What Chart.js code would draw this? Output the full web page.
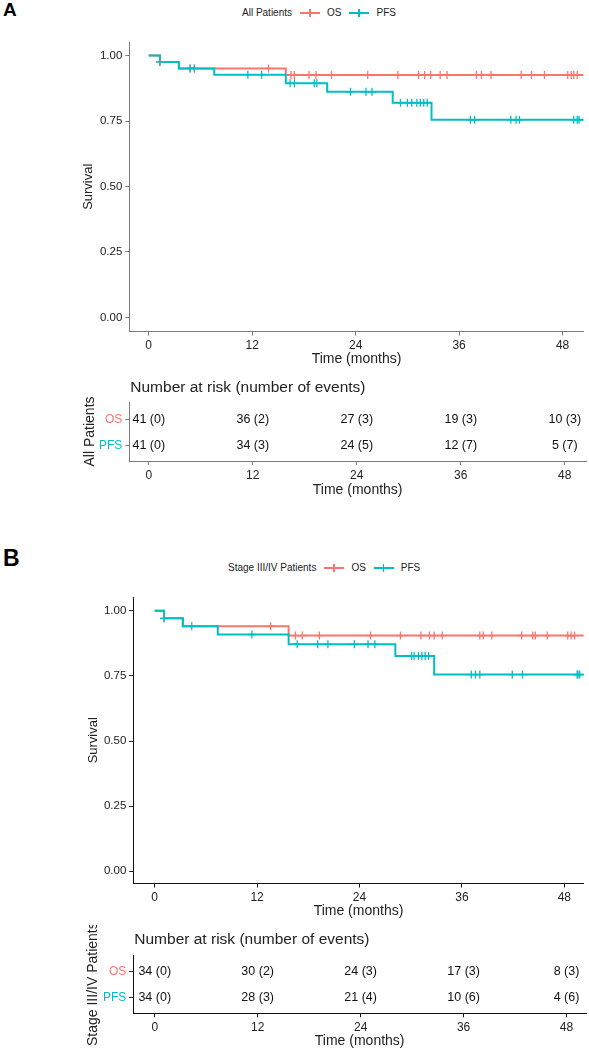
<!DOCTYPE html>
<html>
<head>
<meta charset="utf-8">
<script src="https://cdn.jsdelivr.net/npm/chart.js@4.4.0/dist/chart.umd.min.js"></script>
<style>
  html, body { margin: 0; padding: 0; background: #fff; overflow: hidden; }
  body { width: 589px; height: 1050px; position: relative; font-family: "Liberation Sans", Arial, sans-serif; }
  canvas { position: absolute; left: 0; }
  .panel { position: absolute; left: 3px; font-weight: bold; color: #000; line-height: 1; }
  .legend { position: absolute; display: flex; align-items: center; font-size: 10px; color: #222; white-space: nowrap; height: 10px; line-height: 10px; }
  .key { position: relative; width: 20px; height: 10px; margin: 0 7px 0 8px; }
  .key::before { content: ''; position: absolute; left: 0; right: 0; top: 4px; height: 2px; background: var(--c); }
  .key::after { content: ''; position: absolute; left: 9px; width: 1.5px; top: 1px; height: 8px; background: var(--c); }
</style>
</head>
<body>
<div class="panel" style="top:0px;font-size:19px">A</div>
<div class="legend" style="left:242px;top:8px">All Patients<span class="key" style="--c:#F8766D"></span>OS<span class="key" style="--c:#00BFC4"></span>PFS</div>
<canvas id="survA" width="589" height="344" style="top:28px"></canvas>
<canvas id="riskA" width="589" height="131" style="top:372px"></canvas>

<div class="panel" style="top:547px;font-size:23px">B</div>
<div class="legend" style="left:228px;top:563px">Stage III/IV Patients<span class="key" style="--c:#F8766D"></span>OS<span class="key" style="--c:#00BFC4"></span>PFS</div>
<canvas id="survB" width="589" height="344" style="top:580px"></canvas>
<canvas id="riskB" width="589" height="129" style="top:925px"></canvas>

<script>
// kleuren zoals ggplot standaard
const RED = '#F8766D';
const TEAL = '#00BFC4';
const TEXT = '#222';

const xTicks = [0, 12, 24, 36, 48];
const yTicks = [0, 0.25, 0.5, 0.75, 1];
const riskRows = ['OS', 'PFS'];

// --- Paneel A: alle patiënten ---
const osTimesA = [0, 1.3, 3.5, 15.9, 50.45];
const osSurvA = [1, 0.976, 0.951, 0.926, 0.926];
const pfsTimesA = [0, 1.3, 3.5, 7.6, 15.9, 20.7, 28.3, 32.8, 50.45];
const pfsSurvA = [1, 0.976, 0.951, 0.927, 0.894, 0.862, 0.820, 0.755, 0.755];
const osCensorA = [1.3, 4.8, 5.3, 13.9, 16.5, 16.9, 18.6, 19.4, 21.2, 25.4, 28.9, 31.3, 32.0, 32.7,
  33.8, 34.6, 38.0, 38.6, 39.7, 43.2, 44.4, 45.9, 48.6, 49.0, 49.3, 49.7];
const pfsCensorA = [1.3, 4.8, 5.3, 11.5, 13.1, 16.4, 16.9, 19.2, 19.5, 23.4, 25.2, 25.9, 29.2, 30.0,
  30.5, 31.1, 31.5, 31.9, 32.3, 37.3, 37.8, 42.0, 42.6, 43.0, 49.3, 49.7, 49.9];
const osAtRiskA = [41, 36, 27, 19, 10];
const osEventsA = [0, 2, 3, 3, 3];
const pfsAtRiskA = [41, 34, 24, 12, 5];
const pfsEventsA = [0, 3, 5, 7, 7];

// --- Paneel B: stadium III/IV ---
const osTimesB = [0, 1.1, 3.3, 15.7, 50.5];
const osSurvB = [1, 0.971, 0.941, 0.905, 0.905];
const pfsTimesB = [0, 1.1, 3.3, 7.4, 15.7, 28.2, 32.75, 50.5];
const pfsSurvB = [1, 0.971, 0.941, 0.909, 0.872, 0.826, 0.755, 0.755];
const osCensorB = [1.1, 13.6, 16.5, 17.3, 19.3, 25.3, 28.8, 31.2, 32.2, 32.75, 33.7, 38.1, 38.5, 39.5,
  43.0, 44.3, 44.6, 46.0, 48.4, 48.8, 49.2];
const pfsCensorB = [1.1, 4.35, 11.4, 16.7, 19.1, 20.3, 23.4, 25.0, 25.8, 30.1, 30.4, 30.9, 31.3, 31.7,
  32.1, 37.1, 37.6, 38.1, 41.9, 43.1, 49.5, 49.6, 49.8];
const osAtRiskB = [34, 30, 24, 17, 8];
const osEventsB = [0, 2, 3, 3, 3];
const pfsAtRiskB = [34, 28, 21, 10, 4];
const pfsEventsB = [0, 3, 4, 6, 6];

// hulpfuncties
function stepPoints(times, surv) {
    return times.map((t, i) => ({ x: t, y: surv[i] }));
}

function survAt(times, surv, t) {
    let s = surv[0];
    for (let i = 0; i < times.length; i++) {
        if (times[i] <= t) s = surv[i];
    }
    return s;
}

function censorPoints(times, surv, cens) {
    return cens.map(t => ({ x: t, y: survAt(times, surv, t) }));
}

function axisStyle(color) {
    return {
        grid: { drawOnChartArea: false, drawTicks: true, tickLength: 4, color: color },
        border: { display: true, color: color, width: 1 }
    };
}

// Kaplan-Meier curve
function survivalChart(id, p) {
    new Chart(document.getElementById(id), {
        type: 'line',
        data: {
            datasets: [
                { label: 'PFS censor', data: censorPoints(p.pfsT, p.pfsS, p.pfsC), showLine: false,
                  pointStyle: 'cross', pointRadius: 4, pointBorderColor: TEAL, pointBorderWidth: 1.3, order: 0 },
                { label: 'OS censor', data: censorPoints(p.osT, p.osS, p.osC), showLine: false,
                  pointStyle: 'cross', pointRadius: 4, pointBorderColor: RED, pointBorderWidth: 1.3, order: 1 },
                { label: 'PFS', data: stepPoints(p.pfsT, p.pfsS), stepped: true, borderColor: TEAL,
                  borderWidth: 2, pointRadius: 0, order: 2 },
                { label: 'OS', data: stepPoints(p.osT, p.osS), stepped: true, borderColor: RED,
                  borderWidth: 2, pointRadius: 0, order: 3 }
            ]
        },
        options: {
            responsive: false,
            animation: false,
            devicePixelRatio: 1,
            layout: { padding: { left: p.padLeft, top: p.padTop, right: 3, bottom: 0 } },
            plugins: { legend: { display: false }, tooltip: { enabled: false } },
            scales: {
                x: {
                    type: 'linear', min: p.xMin, max: p.xMax,
                    afterBuildTicks: s => { s.ticks = xTicks.map(v => ({ value: v })); },
                    afterFit: s => { s.height = p.xHeight; },
                    ...axisStyle(p.axis),
                    ticks: { autoSkip: false, maxRotation: 0, padding: 3, color: TEXT, font: { size: 12 } },
                    title: { display: true, text: 'Time (months)', color: TEXT, font: { size: 14 }, padding: { top: 4, bottom: 4 } }
                },
                y: {
                    type: 'linear', min: p.yMin, max: p.yMax,
                    afterBuildTicks: s => { s.ticks = yTicks.map(v => ({ value: v })); },
                    afterFit: s => { s.width = p.yWidth; },
                    ...axisStyle(p.axis),
                    ticks: { padding: 3, color: TEXT, font: { size: 11.5 }, callback: v => Number(v).toFixed(2) },
                    title: { display: true, text: 'Survival', color: TEXT, font: { size: 13 }, padding: { top: 4, bottom: 4 } }
                }
            }
        }
    });
}

// tabel met aantallen at risk, tekst op de posities van onzichtbare punten
const riskTextPlugin = {
    id: 'riskText',
    afterDatasetsDraw(chart) {
        const ctx = chart.ctx;
        ctx.save();
        ctx.font = '12.5px "Liberation Sans", Arial, sans-serif';
        ctx.fillStyle = '#111';
        ctx.textAlign = 'center';
        ctx.textBaseline = 'middle';
        chart.data.datasets.forEach((ds, i) => {
            chart.getDatasetMeta(i).data.forEach((pt, j) => {
                ctx.fillText(ds.texts[j], pt.x, pt.y);
            });
        });
        ctx.font = '15.5px "Liberation Sans", Arial, sans-serif';
        ctx.fillStyle = TEXT;
        ctx.textAlign = 'left';
        ctx.fillText('Number at risk (number of events)', chart.chartArea.left + 1, chart.chartArea.top - chart.options.titleGap);
        ctx.restore();
    }
};

function riskChart(id, p) {
    const rows = [
        { atRisk: p.osN, events: p.osE },
        { atRisk: p.pfsN, events: p.pfsE }
    ];
    new Chart(document.getElementById(id), {
        type: 'line',
        data: {
            datasets: rows.map((r, i) => ({
                label: riskRows[i],
                data: xTicks.map(t => ({ x: t, y: i + 1 })),
                texts: r.atRisk.map((n, j) => `${n} (${r.events[j]})`),
                showLine: false,
                pointRadius: 0
            }))
        },
        options: {
            responsive: false,
            animation: false,
            devicePixelRatio: 1,
            titleGap: p.titleGap,
            layout: { padding: { left: p.padLeft, top: p.padTop, right: 3, bottom: 0 } },
            plugins: { legend: { display: false }, tooltip: { enabled: false } },
            scales: {
                x: {
                    type: 'linear', min: p.xMin, max: p.xMax,
                    afterBuildTicks: s => { s.ticks = xTicks.map(v => ({ value: v })); },
                    afterFit: s => { s.height = p.xHeight; },
                    ...axisStyle(p.axis),
                    ticks: { autoSkip: false, maxRotation: 0, padding: 3, color: TEXT, font: { size: 12 } },
                    title: { display: true, text: 'Time (months)', color: TEXT, font: { size: 14 }, padding: { top: 4, bottom: 4 } }
                },
                y: {
                    type: 'linear', min: p.yMin, max: p.yMax, reverse: true,
                    afterBuildTicks: s => { s.ticks = riskRows.map((r, i) => ({ value: i + 1 })); },
                    afterFit: s => { s.width = p.yWidth; },
                    ...axisStyle(p.axis),
                    ticks: {
                        padding: 3, font: { size: 12 },
                        color: c => (c.tick && c.tick.value === 1 ? RED : TEAL),
                        callback: v => riskRows[Math.round(v) - 1]
                    },
                    title: { display: true, text: p.group, color: TEXT, font: { size: 14 }, padding: { top: 4, bottom: 4 } }
                }
            }
        },
        plugins: [riskTextPlugin]
    });
}

survivalChart('survA', {
    osT: osTimesA, osS: osSurvA, osC: osCensorA,
    pfsT: pfsTimesA, pfsS: pfsSurvA, pfsC: pfsCensorA,
    xMin: -2.25, xMax: 50.45, yMin: -0.054, yMax: 1.052,
    padLeft: 76.6, yWidth: 52.7, padTop: 14, xHeight: 40.5, axis: '#7a7a7a'
});
riskChart('riskA', {
    group: 'All Patients',
    osN: osAtRiskA, osE: osEventsA, pfsN: pfsAtRiskA, pfsE: pfsEventsA,
    xMin: -2.25, xMax: 50.45, yMin: 0.308, yMax: 2.577,
    padLeft: 78, yWidth: 51.3, padTop: 30, xHeight: 42, titleGap: 14, axis: '#7a7a7a'
});
survivalChart('survB', {
    osT: osTimesB, osS: osSurvB, osC: osCensorB,
    pfsT: pfsTimesB, pfsS: pfsSurvB, pfsC: pfsCensorB,
    xMin: -2.5, xMax: 50.27, yMin: -0.047, yMax: 1.053,
    padLeft: 81.2, yWidth: 52.1, padTop: 17, xHeight: 40.5, axis: '#111'
});
riskChart('riskB', {
    group: 'Stage III/IV Patients',
    osN: osAtRiskB, osE: osEventsB, pfsN: pfsAtRiskB, pfsE: pfsEventsB,
    xMin: -2.5, xMax: 50.27, yMin: 0.346, yMax: 2.59,
    padLeft: 80.6, yWidth: 52.7, padTop: 30, xHeight: 40.7, titleGap: 15, axis: '#111'
});
</script>
</body>
</html>
